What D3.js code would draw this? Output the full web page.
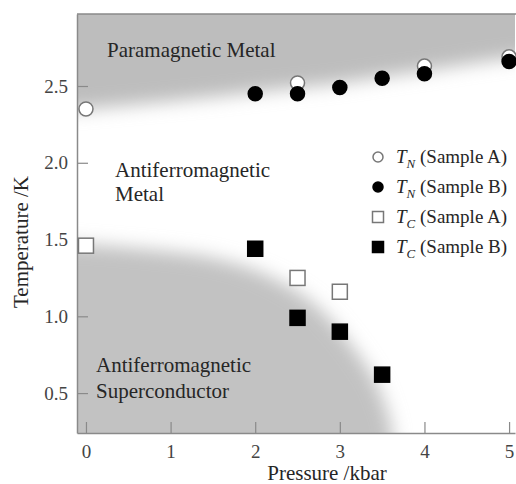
<!DOCTYPE html>
<html>
<head>
<meta charset="utf-8">
<script src="https://cdn.jsdelivr.net/npm/d3@7"></script>
<style>
  body { margin: 0; background: #fff; }
  svg text { font-family: "Liberation Serif", "DejaVu Serif", serif; fill: #262626; }
</style>
</head>
<body>
<div id="chart"></div>
<script>
// data
var tnA_p = [0, 2.5, 4, 5];
var tnA_t = [2.35, 2.52, 2.63, 2.69];
var tnB_p = [2, 2.5, 3, 3.5, 4, 5];
var tnB_t = [2.45, 2.45, 2.49, 2.55, 2.58, 2.66];
var tcA_p = [0, 2.5, 3];
var tcA_t = [1.46, 1.25, 1.16];
var tcB_p = [2, 2.5, 3, 3.5];
var tcB_t = [1.44, 0.99, 0.90, 0.62];

// shaded phase regions (boundaries estimated)
var pmBoundP = [-1, 0, 1, 2, 2.5, 3, 3.5, 4, 5, 6];
var pmBoundT = [2.31, 2.35, 2.40, 2.46, 2.49, 2.52, 2.56, 2.60, 2.68, 2.74];
var scDomeP = [-1, 0, 1, 1.5, 2, 2.5, 2.8, 3.1, 3.4, 3.55, 3.62, 3.65];
var scDomeT = [1.48, 1.47, 1.42, 1.38, 1.30, 1.16, 1.03, 0.84, 0.60, 0.40, 0.24, -0.5];

var xTicks = [0, 1, 2, 3, 4, 5];
var yTicks = [0.5, 1.0, 1.5, 2.0, 2.5];

var W = 516, H = 484;
var margin = {left: 77, top: 14, right: 1, bottom: 51};

var x = d3.scaleLinear().domain([-0.106, 5.07]).range([margin.left, W - margin.right]);
var y = d3.scaleLinear().domain([0.24, 2.969]).range([H - margin.bottom, margin.top]);

var svg = d3.select("#chart").append("svg")
  .attr("width", W)
  .attr("height", H);

var defs = svg.append("defs");
defs.append("clipPath").attr("id", "plotclip")
  .append("rect")
    .attr("x", x.range()[0]).attr("y", y.range()[1])
    .attr("width", x.range()[1] - x.range()[0])
    .attr("height", y.range()[0] - y.range()[1]);
defs.append("filter").attr("id", "soft")
  .attr("x", "-20%").attr("y", "-20%").attr("width", "140%").attr("height", "140%")
  .append("feGaussianBlur").attr("stdDeviation", 9);

var shade = svg.append("g").attr("clip-path", "url(#plotclip)");
var inner = shade.append("g").attr("filter", "url(#soft)");

// paramagnetic region: above TN line
var pmPts = pmBoundP.map(function (p, i) { return [p, pmBoundT[i]]; });
var line = d3.line().x(function (d) { return x(d[0]); }).y(function (d) { return y(d[1]); })
  .curve(d3.curveMonotoneX);
inner.append("path")
  .attr("d", line(pmPts) + " L " + x(6) + " " + y(4) + " L " + x(-1) + " " + y(4) + " Z")
  .attr("fill", "#bdbdbd");

// superconducting dome
var scPts = scDomeP.map(function (p, i) { return [p, scDomeT[i]]; });
var line2 = d3.line().x(function (d) { return x(d[0]); }).y(function (d) { return y(d[1]); })
  .curve(d3.curveCatmullRom);
inner.append("path")
  .attr("d", line2(scPts) + " L " + x(-1) + " " + y(-0.5) + " Z")
  .attr("fill", "#c2c2c2");

// frame
var axisColor = "#8a8a8a";
svg.append("line")
  .attr("x1", x.range()[0]).attr("x2", W).attr("y1", y.range()[1]).attr("y2", y.range()[1])
  .attr("stroke", axisColor).attr("stroke-width", 1.5);

var xAxis = svg.append("g")
  .attr("transform", "translate(0," + y.range()[0] + ")")
  .call(d3.axisBottom(x).tickValues(xTicks).tickSizeInner(-11).tickSizeOuter(0).tickPadding(12)
    .tickFormat(d3.format("d")));
var yAxis = svg.append("g")
  .attr("transform", "translate(" + x.range()[0] + ",0)")
  .call(d3.axisLeft(y).tickValues(yTicks).tickSizeInner(-11).tickSizeOuter(0).tickPadding(9)
    .tickFormat(d3.format(".1f")));
[xAxis, yAxis].forEach(function (a) {
  a.select(".domain").attr("stroke", axisColor).attr("stroke-width", 1.5);
  a.selectAll(".tick line").attr("stroke", axisColor).attr("stroke-width", 1.2);
  a.selectAll(".tick text").attr("font-size", 19).style("fill", "#444")
    .attr("font-family", "Liberation Serif, serif");
});

// axis titles
svg.append("text")
  .attr("x", 327).attr("y", 480)
  .attr("text-anchor", "middle").attr("font-size", 21)
  .text("Pressure /kbar");
svg.append("text")
  .attr("transform", "translate(28,242) rotate(-90)")
  .attr("text-anchor", "middle").attr("font-size", 21)
  .text("Temperature /K");

// region labels
var labels = [
  {t: "Paramagnetic Metal", x: 107, y: 57},
  {t: "Antiferromagnetic", x: 115, y: 177},
  {t: "Metal", x: 115, y: 201},
  {t: "Antiferromagnetic", x: 96, y: 372},
  {t: "Superconductor", x: 96, y: 398}
];
svg.selectAll(".region").data(labels).enter().append("text")
  .attr("class", "region")
  .attr("x", function (d) { return d.x; })
  .attr("y", function (d) { return d.y; })
  .attr("font-size", 21)
  .text(function (d) { return d.t; });

// markers
var plot = svg.append("g");
function circles(ps, ts, filled, r) {
  plot.selectAll(null).data(ps).enter().append("circle")
    .attr("cx", function (d) { return x(d); })
    .attr("cy", function (d, i) { return y(ts[i]); })
    .attr("r", r)
    .attr("fill", filled ? "#000" : "#fff")
    .attr("stroke", filled ? "#000" : "#777")
    .attr("stroke-width", 1.5);
}
function squares(ps, ts, filled, s) {
  plot.selectAll(null).data(ps).enter().append("rect")
    .attr("x", function (d) { return x(d) - s / 2; })
    .attr("y", function (d, i) { return y(ts[i]) - s / 2; })
    .attr("width", s).attr("height", s)
    .attr("fill", filled ? "#000" : "#fff")
    .attr("stroke", filled ? "#000" : "#777")
    .attr("stroke-width", 1.5);
}
circles(tnA_p, tnA_t, false, 7);
circles(tnB_p, tnB_t, true, 7);
squares(tcA_p, tcA_t, false, 15);
squares(tcB_p, tcB_t, true, 15);

// legend
var legend = [
  {sub: "N", label: " (Sample A)", shape: "circle", filled: false},
  {sub: "N", label: " (Sample B)", shape: "circle", filled: true},
  {sub: "C", label: " (Sample A)", shape: "square", filled: false},
  {sub: "C", label: " (Sample B)", shape: "square", filled: true}
];
var lg = svg.append("g").attr("transform", "translate(378,157)");
legend.forEach(function (d, i) {
  var row = lg.append("g").attr("transform", "translate(0," + (i * 30) + ")");
  if (d.shape === "circle") {
    row.append("circle").attr("r", 5)
      .attr("fill", d.filled ? "#000" : "#fff")
      .attr("stroke", d.filled ? "#000" : "#777").attr("stroke-width", 1.5);
  } else {
    row.append("rect").attr("x", -5.5).attr("y", -5.5).attr("width", 11).attr("height", 11)
      .attr("fill", d.filled ? "#000" : "#fff")
      .attr("stroke", d.filled ? "#000" : "#777").attr("stroke-width", 1.5);
  }
  var t = row.append("text").attr("x", 18).attr("y", 6).attr("font-size", 19);
  t.append("tspan").attr("font-style", "italic").text("T");
  t.append("tspan").attr("font-style", "italic").attr("font-size", 13).attr("dy", 5).text(d.sub);
  t.append("tspan").attr("dy", -5).text(d.label);
});
</script>
</body>
</html>
